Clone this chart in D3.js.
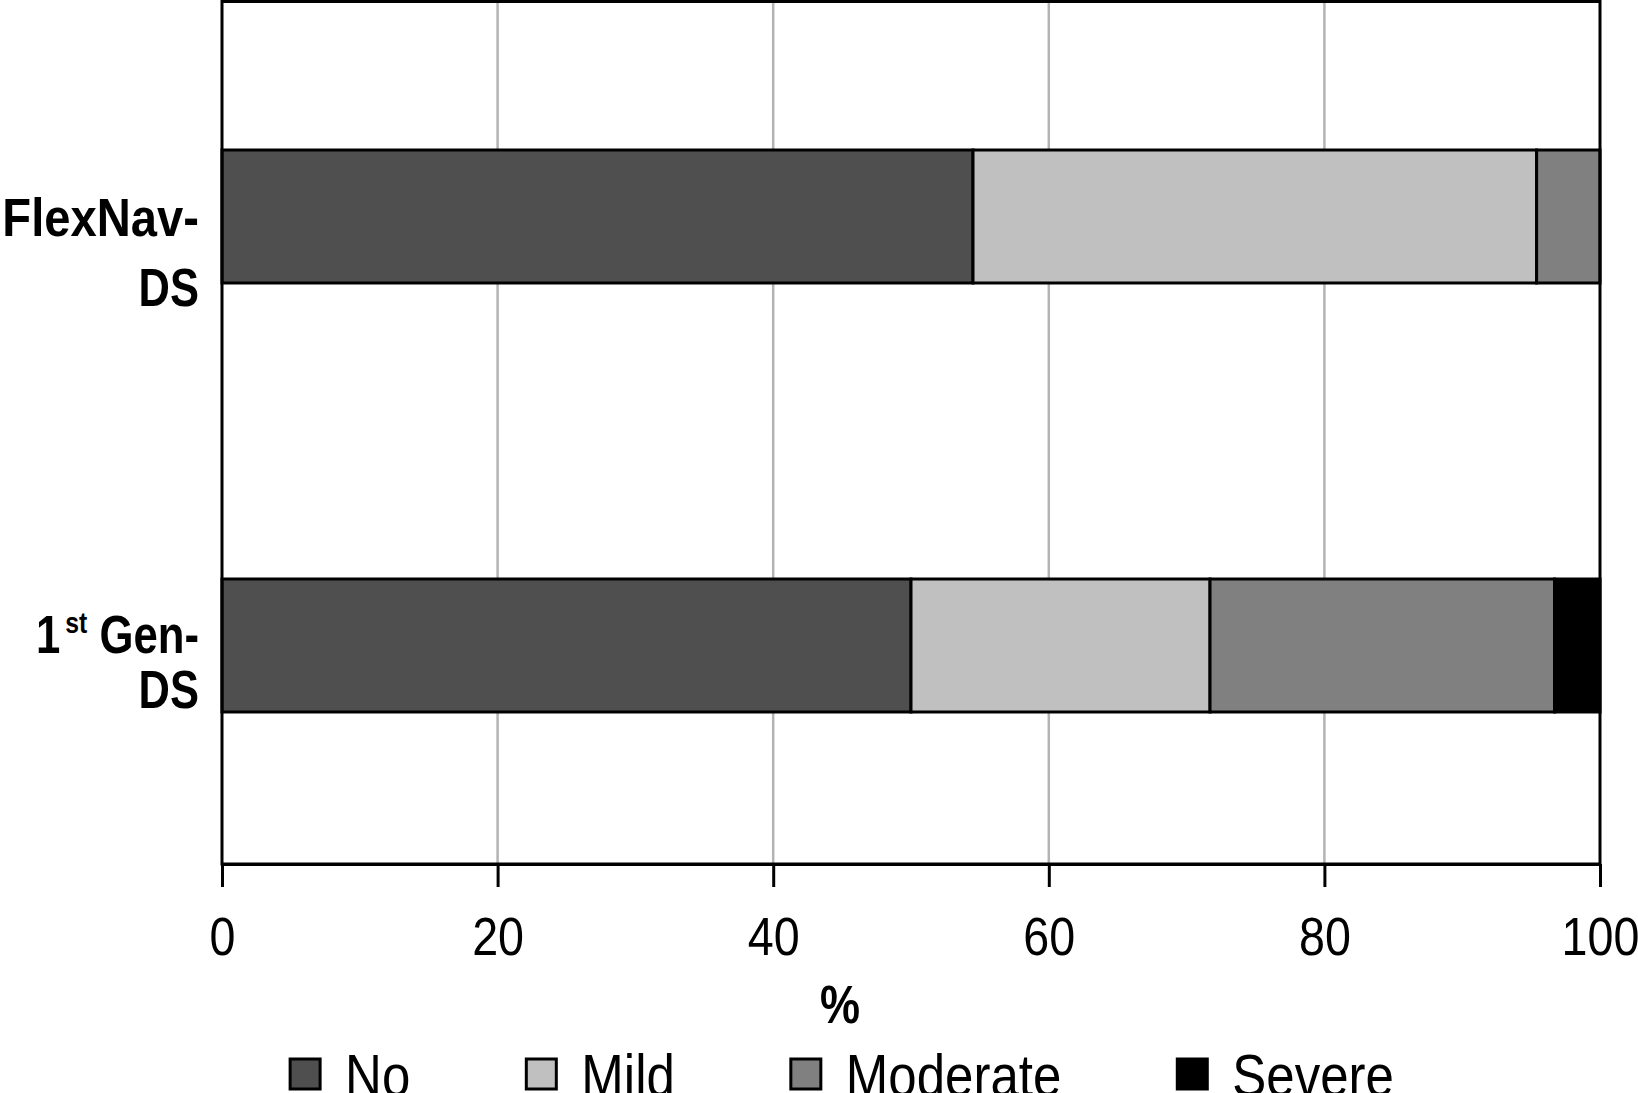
<!DOCTYPE html>
<html>
<head>
<meta charset="utf-8">
<script src="https://cdn.jsdelivr.net/npm/d3@7"></script>
<style>
  body { margin: 0; background: #fff; }
  svg { display: block; }
  .tick text { font-family: "Liberation Sans", Arial, sans-serif; }
</style>
</head>
<body>
<div class="container"></div>
<script>
const WIDTH = 1638;
const HEIGHT = 1093;

// data
const categories = ["FlexNav-DS", "1st Gen-DS"];
const severities = ["No", "Mild", "Moderate", "Severe"];
const noValues = [54.5, 50.0];
const mildValues = [40.9, 21.7];
const moderateValues = [4.6, 25.0];
const severeValues = [0, 3.3];
const xTicks = [0, 20, 40, 60, 80, 100];
const xTitle = "%";

const colors = ["#4f4f4f", "#c0c0c0", "#808080", "#000000"];

const LEFT = 222, RIGHT = 1600, TOP = 1.5, BOTTOM = 864;
const FONT = '"Liberation Sans", Arial, sans-serif';
const NARROW = 0.85;

var translate = function (x, y) {
    return "translate(" + x + "," + y + ")";
};

// squeeze a text horizontally to mimic a narrow face
var condense = function (sel, k) {
    sel.each(function () {
        var w = this.getComputedTextLength();
        d3.select(this)
            .attr('textLength', w * k)
            .attr('lengthAdjust', 'spacingAndGlyphs');
    });
};

var rows = categories.map(function (c, i) {
    return {
        category: c,
        No: noValues[i],
        Mild: mildValues[i],
        Moderate: moderateValues[i],
        Severe: severeValues[i]
    };
});

var svg = d3.select('.container').append('svg')
    .attr('width', WIDTH)
    .attr('height', HEIGHT);

var xScale = d3.scaleLinear()
    .domain([0, 100])
    .range([LEFT, RIGHT]);

var yScale = d3.scaleBand()
    .domain(categories)
    .range([2, 860])
    .paddingInner(0.69)
    .paddingOuter(0.345);

// gridlines
svg.append('g')
    .selectAll('line')
    .data(xTicks.slice(1, -1))
    .join('line')
    .attr('x1', d => xScale(d))
    .attr('x2', d => xScale(d))
    .attr('y1', TOP)
    .attr('y2', BOTTOM)
    .attr('stroke', '#b3b3b3')
    .attr('stroke-width', 2.5);

// stacked bars
var stack = d3.stack().keys(severities);
var series = stack(rows);

svg.append('g')
    .selectAll('g')
    .data(series)
    .join('g')
    .attr('fill', (d, i) => colors[i])
    .selectAll('rect')
    .data(d => d.filter(s => s[1] - s[0] > 0))
    .join('rect')
    .attr('x', d => xScale(d[0]))
    .attr('width', d => xScale(d[1]) - xScale(d[0]))
    .attr('y', d => yScale(d.data.category))
    .attr('height', yScale.bandwidth())
    .attr('stroke', '#000')
    .attr('stroke-width', 3);

// frame
svg.append('rect')
    .attr('x', LEFT)
    .attr('y', TOP)
    .attr('width', RIGHT - LEFT)
    .attr('height', BOTTOM - TOP)
    .attr('fill', 'none')
    .attr('stroke', '#000')
    .attr('stroke-width', 3);

// x axis
var xAxis = d3.axisBottom(xScale)
    .tickValues(xTicks)
    .tickSize(23)
    .tickSizeOuter(0)
    .tickPadding(30);

var gx = svg.append('g')
    .attr('transform', translate(0, BOTTOM))
    .call(xAxis);
gx.select('.domain').attr('stroke-width', 3);
gx.selectAll('.tick line').attr('stroke-width', 3);
gx.selectAll('.tick text')
    .attr('font-size', 53)
    .attr('fill', '#000')
    .call(condense, 0.88);

svg.append('text')
    .attr('x', 840)
    .attr('y', 1023)
    .attr('text-anchor', 'middle')
    .attr('font-family', FONT)
    .attr('font-weight', 'bold')
    .attr('font-size', 53)
    .text(xTitle)
    .call(condense, NARROW);

// category labels (two lines, right aligned)
var labelLayout = [
    { first: 19, second: 89 },
    { first: 7, second: 62 }
];

categories.forEach(function (c, i) {
    var cy = yScale(c) + yScale.bandwidth() / 2;
    var parts = c.split('-');
    var t = svg.append('text')
        .attr('x', 199)
        .attr('y', cy + labelLayout[i].first)
        .attr('text-anchor', 'end')
        .attr('font-family', FONT)
        .attr('font-weight', 'bold')
        .attr('font-size', 53);
    var m = parts[0].match(/^(\d+)(st|nd|rd|th)(.*)$/);
    if (m) {
        t.append('tspan').text(m[1]);
        t.append('tspan').attr('font-size', 30).attr('dx', 6).attr('dy', -20).text(m[2]);
        t.append('tspan').attr('dy', 20).text(m[3] + '-');
    } else {
        t.text(parts[0] + '-');
    }
    t.call(condense, i === 0 ? 0.89 : NARROW);
    svg.append('text')
        .attr('x', 199)
        .attr('y', cy + labelLayout[i].second)
        .attr('text-anchor', 'end')
        .attr('font-family', FONT)
        .attr('font-weight', 'bold')
        .attr('font-size', 53)
        .text(parts[1])
        .call(condense, 0.82);
});

// legend
var GAP = 116;
var legend = svg.append('g');
var cursor = 0;
severities.forEach(function (s, i) {
    var item = legend.append('g').attr('transform', translate(cursor, 0));
    item.append('rect')
        .attr('x', 0)
        .attr('y', 1059)
        .attr('width', 30)
        .attr('height', 30)
        .attr('fill', colors[i])
        .attr('stroke', '#000')
        .attr('stroke-width', 3);
    var txt = item.append('text')
        .attr('x', 55)
        .attr('y', 1096)
        .attr('font-family', FONT)
        .attr('font-size', 60)
        .text(s);
    var w = txt.node().getComputedTextLength() * NARROW;
    txt.attr('textLength', w).attr('lengthAdjust', 'spacingAndGlyphs');
    cursor += 55 + w + GAP;
});
var legendWidth = cursor - GAP;
legend.attr('transform', translate(842 - legendWidth / 2, 0));
</script>
</body>
</html>
